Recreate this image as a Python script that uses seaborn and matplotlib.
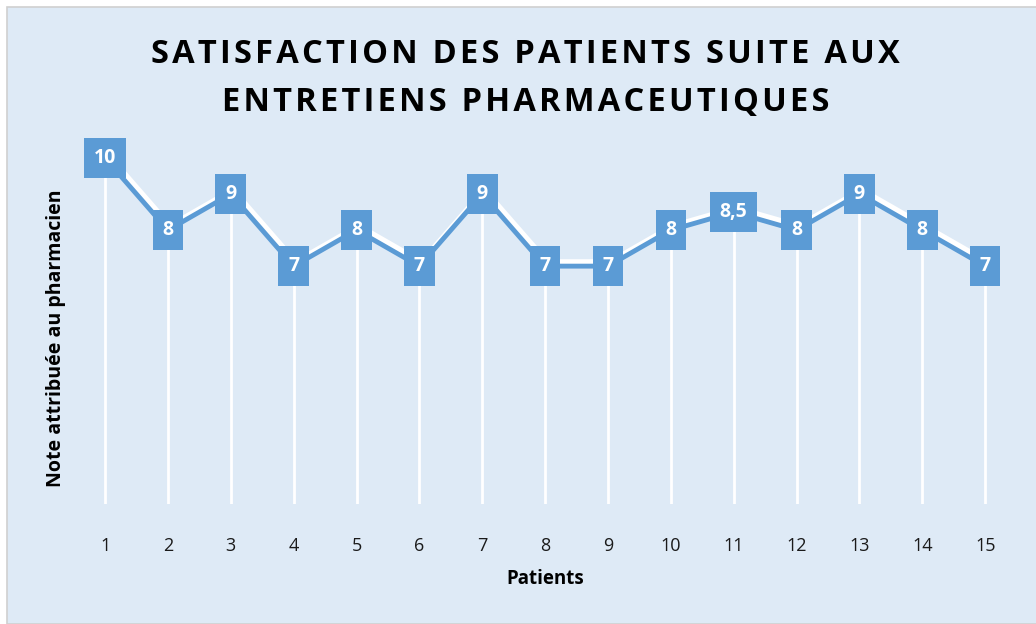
import matplotlib.pyplot as plt
import matplotlib.patheffects as pe
from matplotlib.patches import Rectangle
import seaborn as sns
import pandas as pd

sns.set_theme(style='white')
plt.rcParams['font.family'] = ['Open Sans', 'DejaVu Sans']

# données
patients = list(range(1, 16))
notes = [10, 8, 9, 7, 8, 7, 9, 7, 7, 8, 8.5, 8, 9, 8, 7]
etiquettes = ['10', '8', '9', '7', '8', '7', '9', '7', '7', '8', '8,5', '8', '9', '8', '7']
titre = ['SATISFACTION DES PATIENTS SUITE AUX', 'ENTRETIENS PHARMACEUTIQUES']

bleu = '#5B9BD5'
fond = '#DEEAF6'

df = pd.DataFrame({'Patients': patients, 'Note': notes})

fig = plt.figure(figsize=(10.36, 6.24), dpi=100, facecolor='white')
# cadre du graphique
fig.patches.append(Rectangle((7 / 1036, 0), 1.0, 1 - 7 / 624, transform=fig.transFigure,
                             facecolor=fond, edgecolor='#D0D0D0', linewidth=1.2, zorder=-5))

ax = fig.add_axes([73.6 / 1036, 1 - 504 / 624, 943 / 1036, (504 - 140) / 624])
ax.set_facecolor('none')
ax.set_zorder(2)

# lignes de rappel
ax.vlines(df['Patients'], 0.4, df['Note'], colors='white', linewidth=2, zorder=1)

# courbe avec ombre blanche
sns.lineplot(data=df, x='Patients', y='Note', color=bleu, linewidth=3.5, ax=ax, zorder=3,
             path_effects=[pe.SimpleLineShadow(offset=(1.5, 3), shadow_color='white', alpha=1, linewidth=4),
                           pe.Normal()])

# étiquettes de données
for x, y, t in zip(patients, notes, etiquettes):
    ax.text(x, y, t, ha='center', va='center', color='white', fontsize=14, fontweight='bold',
            zorder=5, bbox=dict(boxstyle='square,pad=0.5', facecolor=bleu, edgecolor='none'))

ax.set_xlim(0.5, 15.5)
ax.set_ylim(0.4, 10.5)
ax.set_xticks(patients)
ax.set_xticklabels([str(p) for p in patients], fontsize=13, color='#1a1a1a')
ax.tick_params(axis='x', length=0, pad=24)
ax.set_yticks([])
sns.despine(ax=ax, left=True, bottom=True)

ax.set_xlabel('Patients', fontsize=13.5, fontweight='bold', color='black', labelpad=10)
ax.set_ylabel('Note attribuée au pharmacien', fontsize=14, fontweight='bold', color='black')
ax.yaxis.set_label_coords(-0.008, 0.456)

# titre avec espacement des lettres
espace = '\u200a'
titre_espace = '\n'.join(espace.join(ligne) for ligne in titre)
fig.text(0.507, 0.874, titre_espace, ha='center', va='center', fontsize=23.5, fontweight='bold',
         color='black', linespacing=1.62)

fig.savefig('out.png', dpi=100, facecolor=fig.get_facecolor())
